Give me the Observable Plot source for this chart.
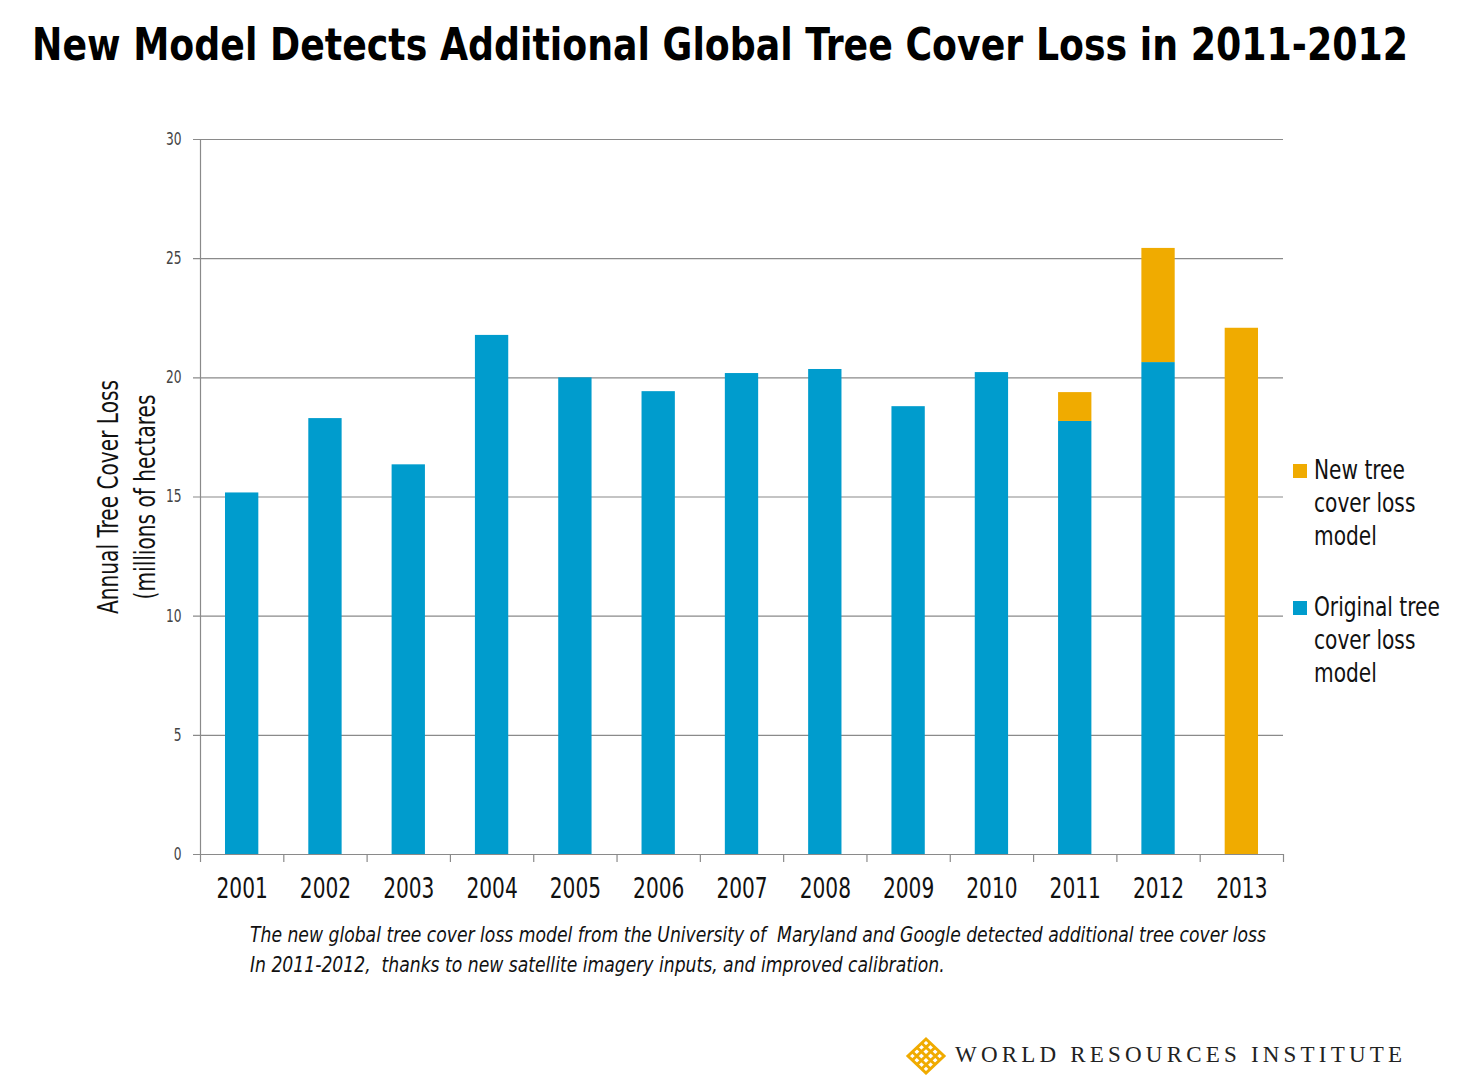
<!DOCTYPE html>
<html>
<head>
<meta charset="utf-8">
<script src="https://cdn.jsdelivr.net/npm/d3@7"></script>
<script src="https://cdn.jsdelivr.net/npm/@observablehq/plot@0.6"></script>
<style>
  html, body { margin: 0; padding: 0; background: #fff; }
  body { width: 1465px; height: 1075px; position: relative; overflow: hidden;
         font-family: "DejaVu Sans Condensed", "DejaVu Sans", sans-serif; }
  #title { position: absolute; left: 32px; top: 18px; font-size: 45px; font-weight: bold; color: #000;
           white-space: nowrap; transform-origin: 0 0; }
  #chart { position: absolute; left: 0; top: 100px; }
  #legend { position: absolute; left: 1293px; top: 453px; font-size: 27px; color: #111; line-height: 33px; }
  .li { position: relative; padding-left: 21px; margin-bottom: 38px; }
  .sw { position: absolute; left: 0; top: 11px; width: 14px; height: 14px; }
  .lt { display: inline-block; transform: scaleX(0.83); transform-origin: 0 0; white-space: nowrap; }
  #caption { position: absolute; left: 250px; top: 920px; font-size: 22px; font-style: italic; color: #111;
             line-height: 30px; white-space: pre; transform-origin: 0 0; }
  #logo { position: absolute; left: 903px; top: 1036px; height: 40px; }
  #logotext { position: absolute; left: 955px; top: 1042px; font-family: "Liberation Serif", "DejaVu Serif", serif;
              font-size: 23px; letter-spacing: 4.2px; color: #222; white-space: nowrap; }
</style>
</head>
<body>
<div id="title">New Model Detects Additional Global Tree Cover Loss in 2011-2012</div>
<div id="chart"></div>
<div id="legend"></div>
<div id="caption"></div>
<svg id="logo" width="46" height="40" viewBox="0 0 46 40">
  <g fill="none" stroke="#F0AB00" stroke-width="3">
    <path d="M23 3 L41 20 L23 37 L5 20 Z"/>
    <path d="M14 11.5 L32 28.5 M32 11.5 L14 28.5"/>
    <path d="M18.5 7 L36.5 24 M27.5 7 L9.5 24 M9.5 16 L27.5 33 M36.5 16 L18.5 33"/>
  </g>
</svg>
<div id="logotext">WORLD RESOURCES INSTITUTE</div>
<script>
const years = ["2001","2002","2003","2004","2005","2006","2007","2008","2009","2010","2011","2012","2013"];
const originalModel = [15.17, 18.29, 16.35, 21.78, 20.0, 19.42, 20.18, 20.35, 18.79, 20.22, 18.17, 20.64, 0];
const newModelExtra = [0, 0, 0, 0, 0, 0, 0, 0, 0, 0, 1.21, 4.79, 22.08];
const seriesNames = ["Original tree cover loss model", "New tree cover loss model"];
const seriesColors = ["#009CCD", "#F0AB00"];
const yTicks = [0, 5, 10, 15, 20, 25, 30];
const legendLabels = [["New tree", "cover loss", "model"], ["Original tree", "cover loss", "model"]];
const yLabel = "Annual Tree Cover Loss\n(millions of hectares";
const captionText = "The new global tree cover loss model from the University of  Maryland and Google detected additional tree cover loss\nIn 2011-2012,  thanks to new satellite imagery inputs, and improved calibration.";

const rows = [];
years.forEach((y, i) => {
  rows.push({year: y, series: seriesNames[0], value: originalModel[i]});
  rows.push({year: y, series: seriesNames[1], value: newModelExtra[i]});
});

const W = 1465, H = 830;
const mL = 200, mR = 182, mT = 39, mB = 76;
const step = (W - mL - mR) / years.length;
const gridColor = "#8a8a8a";

const chart = Plot.plot({
  width: W, height: H,
  marginLeft: mL, marginRight: mR, marginTop: mT, marginBottom: mB,
  style: {fontFamily: '"DejaVu Sans Condensed", "DejaVu Sans", sans-serif', background: "#fff"},
  x: {domain: years, paddingInner: 0.6, paddingOuter: 0.3, round: false, axis: null},
  y: {domain: [0, 30], axis: null},
  color: {domain: seriesNames, range: seriesColors},
  marks: [
    Plot.ruleY(yTicks, {y: d => d, stroke: gridColor, strokeWidth: 1.2, insetLeft: -7}),
    Plot.ruleX(years.slice(0, 1), {x: d => d, dx: -step / 2, stroke: gridColor, strokeWidth: 1.2}),
    Plot.ruleX(years, {x: d => d, y1: 0, y2: 0, dx: -step / 2, insetBottom: -8, stroke: gridColor, strokeWidth: 1.2}),
    Plot.ruleX(years.slice(-1), {x: d => d, y1: 0, y2: 0, dx: step / 2, insetBottom: -8, stroke: gridColor, strokeWidth: 1.2}),
    Plot.barY(rows, Plot.stackY({x: "year", y: "value", fill: "series", order: seriesNames})),
    Plot.text(yTicks, {y: d => d, frameAnchor: "left", dx: -19, textAnchor: "end", text: d => String(d), fontSize: 17, fill: "#444"}),
    Plot.text(years, {x: d => d, frameAnchor: "bottom", dy: 43, text: d => d, fontSize: 28, fill: "#111"}),
    Plot.text([yLabel], {frameAnchor: "left", dx: -76, rotate: -90, textAnchor: "middle", text: d => d, fontSize: 28, fill: "#111", lineHeight: 1.32})
  ]
});
document.getElementById("chart").appendChild(chart);

// condensed look: compress every text horizontally about its anchor point
chart.querySelectorAll("text").forEach(t => {
  let tr = t.getAttribute("transform") || "";
  const xs = t.getAttribute("x");
  if (xs !== null && /^-?[\d.]+$/.test(xs) && parseFloat(xs) !== 0) {
    t.removeAttribute("x");
    tr += ` translate(${xs},0)`;
  }
  t.setAttribute("transform", `${tr} scale(0.8,1)`);
});

const leg = document.getElementById("legend");
[1, 0].forEach((si, k) => {
  const div = document.createElement("div");
  div.className = "li";
  div.innerHTML = `<span class="sw" style="background:${seriesColors[si]}"></span><span class="lt">` + legendLabels[k].join("<br>") + `</span>`;
  leg.appendChild(div);
});
const cap = document.getElementById("caption");
cap.textContent = captionText;

function fitWidth(el, target) {
  const w = el.getBoundingClientRect().width;
  el.style.transform = `scaleX(${target / w})`;
}
fitWidth(document.getElementById("title"), 1376);
fitWidth(cap, 1016);
</script>
</body>
</html>
